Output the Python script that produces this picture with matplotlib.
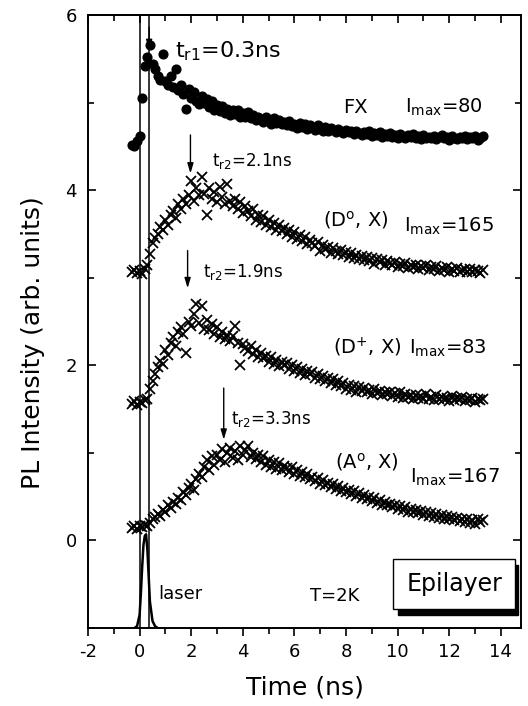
import numpy as np
import matplotlib
matplotlib.use("Agg")
import matplotlib.pyplot as plt
from matplotlib.patches import Rectangle

plt.rcParams['font.family'] = ['DejaVu Sans']
plt.rcParams['mathtext.fontset'] = 'dejavusans'

# time grid (ns), 0.1 ns sampling from -0.3 to 13.3
time = np.round(np.arange(-0.3, 13.35, 0.1), 1)

fx = [4.52, 4.50, 4.56, 4.62, 5.05, 5.42, 5.52, 5.66, 5.44, 5.38,
      5.30, 5.26, 5.56, 5.25, 5.20, 5.30, 5.18, 5.38, 5.14, 5.20,
      5.10, 4.93, 5.16, 5.05, 5.12, 5.02, 4.98, 5.08, 4.99, 5.04,
      4.95, 5.02, 4.92, 4.97, 4.90, 4.96, 4.88, 4.93, 4.86, 4.91,
      4.87, 4.92, 4.84, 4.88, 4.83, 4.89, 4.82, 4.86, 4.80, 4.84,
      4.81, 4.78, 4.84, 4.79, 4.76, 4.82, 4.77, 4.80, 4.75, 4.78,
      4.74, 4.79, 4.73, 4.76, 4.71, 4.77, 4.72, 4.75, 4.70, 4.74,
      4.72, 4.69, 4.74, 4.70, 4.68, 4.72, 4.67, 4.71, 4.69, 4.66,
      4.70, 4.67, 4.65, 4.69, 4.66, 4.68, 4.64, 4.67, 4.65, 4.63,
      4.66, 4.64, 4.67, 4.62, 4.65, 4.63, 4.66, 4.61, 4.64, 4.62,
      4.65, 4.61, 4.63, 4.60, 4.64, 4.62, 4.59, 4.63, 4.61, 4.64,
      4.60, 4.62, 4.58, 4.63, 4.60, 4.61, 4.59, 4.62, 4.58, 4.61,
      4.63, 4.59, 4.61, 4.57, 4.62, 4.60, 4.58, 4.61, 4.59, 4.62,
      4.58, 4.61, 4.59, 4.62, 4.57, 4.60, 4.62]

d0x = [3.06, 3.09, 3.05, 3.08, 3.04, 3.10, 3.14, 3.27, 3.40, 3.45,
       3.50, 3.58, 3.55, 3.66, 3.60, 3.72, 3.76, 3.68, 3.84, 3.78,
       3.90, 3.84, 3.95, 4.11, 3.88, 4.02, 3.94, 4.15, 3.96, 3.72,
       4.02, 3.90, 3.98, 3.86, 4.04, 3.92, 3.84, 4.07, 3.88, 3.82,
       3.90, 3.79, 3.86, 3.74, 3.82, 3.76, 3.70, 3.78, 3.66, 3.72,
       3.64, 3.70, 3.60, 3.66, 3.58, 3.63, 3.55, 3.60, 3.53, 3.57,
       3.50, 3.55, 3.46, 3.52, 3.44, 3.49, 3.42, 3.46, 3.38, 3.43,
       3.40, 3.36, 3.41, 3.30, 3.37, 3.33, 3.35, 3.28, 3.34, 3.30,
       3.27, 3.32, 3.26, 3.29, 3.24, 3.28, 3.22, 3.26, 3.21, 3.25,
       3.20, 3.24, 3.19, 3.22, 3.16, 3.21, 3.18, 3.20, 3.15, 3.19,
       3.17, 3.14, 3.18, 3.12, 3.16, 3.13, 3.17, 3.11, 3.15, 3.12,
       3.14, 3.10, 3.13, 3.11, 3.15, 3.09, 3.12, 3.10, 3.13, 3.08,
       3.11, 3.09, 3.12, 3.07, 3.10, 3.08, 3.11, 3.06, 3.09, 3.10,
       3.07, 3.10, 3.06, 3.09, 3.08, 3.05, 3.09]

dpx = [1.56, 1.59, 1.55, 1.58, 1.57, 1.60, 1.62, 1.73, 1.82, 1.90,
       1.98, 2.05, 2.02, 2.18, 2.12, 2.26, 2.32, 2.22, 2.38, 2.44,
       2.36, 2.14, 2.50, 2.45, 2.58, 2.70, 2.48, 2.68, 2.42, 2.52,
       2.40, 2.47, 2.36, 2.44, 2.32, 2.38, 2.30, 2.35, 2.28, 2.33,
       2.45, 2.26, 2.00, 2.24, 2.20, 2.16, 2.22, 2.13, 2.18, 2.10,
       2.14, 2.08, 2.11, 2.04, 2.09, 2.02, 2.06, 1.99, 2.04, 2.00,
       2.03, 1.96, 2.00, 1.94, 1.98, 1.91, 1.96, 1.89, 1.93, 1.90,
       1.92, 1.86, 1.90, 1.84, 1.88, 1.82, 1.86, 1.80, 1.84, 1.78,
       1.82, 1.76, 1.80, 1.73, 1.78, 1.72, 1.76, 1.70, 1.75, 1.71,
       1.74, 1.69, 1.72, 1.67, 1.73, 1.68, 1.71, 1.66, 1.70, 1.67,
       1.69, 1.65, 1.68, 1.64, 1.70, 1.63, 1.67, 1.64, 1.66, 1.62,
       1.66, 1.63, 1.65, 1.61, 1.67, 1.62, 1.64, 1.60, 1.66, 1.62,
       1.64, 1.61, 1.63, 1.59, 1.65, 1.60, 1.63, 1.61, 1.64, 1.59,
       1.62, 1.60, 1.63, 1.58, 1.62, 1.60, 1.61]

a0x = [0.14, 0.17, 0.13, 0.16, 0.15, 0.18, 0.16, 0.20, 0.24, 0.27,
       0.30, 0.28, 0.35, 0.33, 0.40, 0.37, 0.44, 0.42, 0.49, 0.46,
       0.55, 0.52, 0.60, 0.65, 0.58, 0.70, 0.76, 0.72, 0.84, 0.92,
       0.80, 0.96, 0.86, 0.98, 0.92, 1.04, 0.90, 1.00, 1.06, 0.94,
       1.02, 0.92, 1.08, 0.97, 1.03, 1.08, 0.95, 1.00, 0.93, 0.98,
       0.90, 0.96, 0.86, 0.92, 0.84, 0.89, 0.82, 0.88, 0.80, 0.85,
       0.83, 0.78, 0.84, 0.76, 0.80, 0.74, 0.78, 0.72, 0.76, 0.70,
       0.73, 0.68, 0.71, 0.65, 0.69, 0.63, 0.66, 0.61, 0.64, 0.59,
       0.62, 0.57, 0.60, 0.55, 0.58, 0.53, 0.56, 0.51, 0.54, 0.49,
       0.52, 0.47, 0.50, 0.45, 0.48, 0.43, 0.46, 0.41, 0.44, 0.40,
       0.42, 0.38, 0.41, 0.36, 0.39, 0.35, 0.38, 0.33, 0.36, 0.32,
       0.35, 0.31, 0.34, 0.29, 0.32, 0.28, 0.31, 0.27, 0.30, 0.26,
       0.29, 0.25, 0.28, 0.24, 0.27, 0.23, 0.26, 0.22, 0.25, 0.21,
       0.24, 0.20, 0.23, 0.19, 0.25, 0.21, 0.23]

laser_t = [-0.2, -0.1, 0.0, 0.05, 0.1, 0.15, 0.2, 0.25, 0.3, 0.35, 0.4, 0.5, 0.6, 0.7]
laser_y = [-1.0, -0.98, -0.85, -0.6, -0.3, -0.05, 0.05, 0.07, -0.1, -0.4, -0.7, -0.92, -0.98, -1.0]

vlines_t = [0.0, 0.37]

fig = plt.figure(figsize=(5.28, 7.06), dpi=100)
ax = fig.add_axes([88/528, 1-628/706, (521-88)/528, (628-15)/706])

ax.set_xlim(-2, 14.78)
ax.set_ylim(-1, 6)

for v in vlines_t:
    ax.axvline(v, color='k', lw=1.1)

ax.plot(time, fx, 'o', color='k', ms=6.3, mec='k')
ax.plot(time, d0x, 'x', color='k', ms=7.5, mew=1.3)
ax.plot(time, dpx, 'x', color='k', ms=7.5, mew=1.3)
ax.plot(time, a0x, 'x', color='k', ms=7.5, mew=1.3)
ax.plot(laser_t, laser_y, '-', color='k', lw=1.8)

arrow = dict(arrowstyle='-|>,head_length=0.6,head_width=0.18', lw=1.0, color='k',
             shrinkA=0, shrinkB=0)
ax.annotate('', xy=(0.37, 5.60), xytext=(0.37, 5.86), arrowprops=arrow)
ax.annotate('', xy=(1.97, 4.19), xytext=(1.97, 4.63), arrowprops=arrow)
ax.annotate('', xy=(1.86, 2.88), xytext=(1.86, 3.31), arrowprops=arrow)
ax.annotate('', xy=(3.26, 1.15), xytext=(3.26, 1.74), arrowprops=arrow)

ax.text(1.36, 5.52, r'$\mathrm{t}_{\mathrm{r1}}$=0.3ns', fontsize=16, va='baseline')
ax.text(2.79, 4.28, r'$\mathrm{t}_{\mathrm{r2}}$=2.1ns', fontsize=12, va='baseline')
ax.text(2.46, 3.01, r'$\mathrm{t}_{\mathrm{r2}}$=1.9ns', fontsize=12, va='baseline')
ax.text(3.56, 1.33, r'$\mathrm{t}_{\mathrm{r2}}$=3.3ns', fontsize=12, va='baseline')

ax.text(7.88, 4.88, 'FX', fontsize=14, va='baseline')
ax.text(10.3, 4.88, r'$\mathrm{I}_{\mathrm{max}}$=80', fontsize=14, va='baseline')
ax.text(7.1, 3.59, r'(D$^{\mathrm{o}}$, X)', fontsize=14, va='baseline')
ax.text(10.25, 3.52, r'$\mathrm{I}_{\mathrm{max}}$=165', fontsize=14, va='baseline')
ax.text(7.5, 2.13, r'(D$^{+}$, X)', fontsize=14, va='baseline')
ax.text(10.45, 2.13, r'$\mathrm{I}_{\mathrm{max}}$=83', fontsize=14, va='baseline')
ax.text(7.57, 0.83, r'(A$^{\mathrm{o}}$, X)', fontsize=14, va='baseline')
ax.text(10.48, 0.655, r'$\mathrm{I}_{\mathrm{max}}$=167', fontsize=14, va='baseline')

ax.text(0.72, -0.667, 'laser', fontsize=13, va='baseline')
ax.text(6.6, -0.69, 'T=2K', fontsize=13, va='baseline')

# Epilayer box with shadow
ax.add_patch(Rectangle((10.0, -0.85), 4.67, 0.57, facecolor='k', edgecolor='k', zorder=4))
ax.add_patch(Rectangle((9.83, -0.78), 4.72, 0.57, facecolor='white', edgecolor='k',
                       lw=1.0, zorder=5))
ax.text(12.19, -0.495, 'Epilayer', fontsize=17, ha='center', va='center', zorder=6)

# axes styling
for s in ax.spines.values():
    s.set_linewidth(1.4)

ax.set_xticks(np.arange(-2, 15, 2))
ax.set_xticks(np.arange(-1, 15, 2), minor=True)
ax.set_yticks([0, 2, 4, 6])
ax.set_yticks([-1, 1, 3, 5], minor=True)
ax.set_xticklabels(['-2', '0', '2', '4', '6', '8', '10', '12', '14'])
ax.tick_params(axis='x', which='major', direction='out', length=6, width=1.2,
               labelsize=13, pad=4.5)
ax.tick_params(axis='x', which='minor', direction='out', length=4, width=1.2)
ax.tick_params(axis='y', which='both', direction='in', right=True, width=1.2,
               labelsize=13, pad=8)
ax.tick_params(axis='y', which='major', length=6)
ax.tick_params(axis='y', which='minor', length=4)

top = ax.secondary_xaxis('top')
top.set_xticks(np.arange(-2, 15, 2))
top.set_xticks(np.arange(-1, 15, 2), minor=True)
top.tick_params(which='both', direction='in', width=1.2, labeltop=False)
top.tick_params(which='major', length=6)
top.tick_params(which='minor', length=4)
top.spines['top'].set_linewidth(1.4)

fig.text(305/528, 1-688/706, 'Time (ns)', fontsize=18, ha='center', va='center')
fig.text(33/528, 1-343/706, 'PL Intensity (arb. units)', fontsize=18, rotation=90,
         ha='center', va='center')

fig.savefig('out.png', dpi=100)
